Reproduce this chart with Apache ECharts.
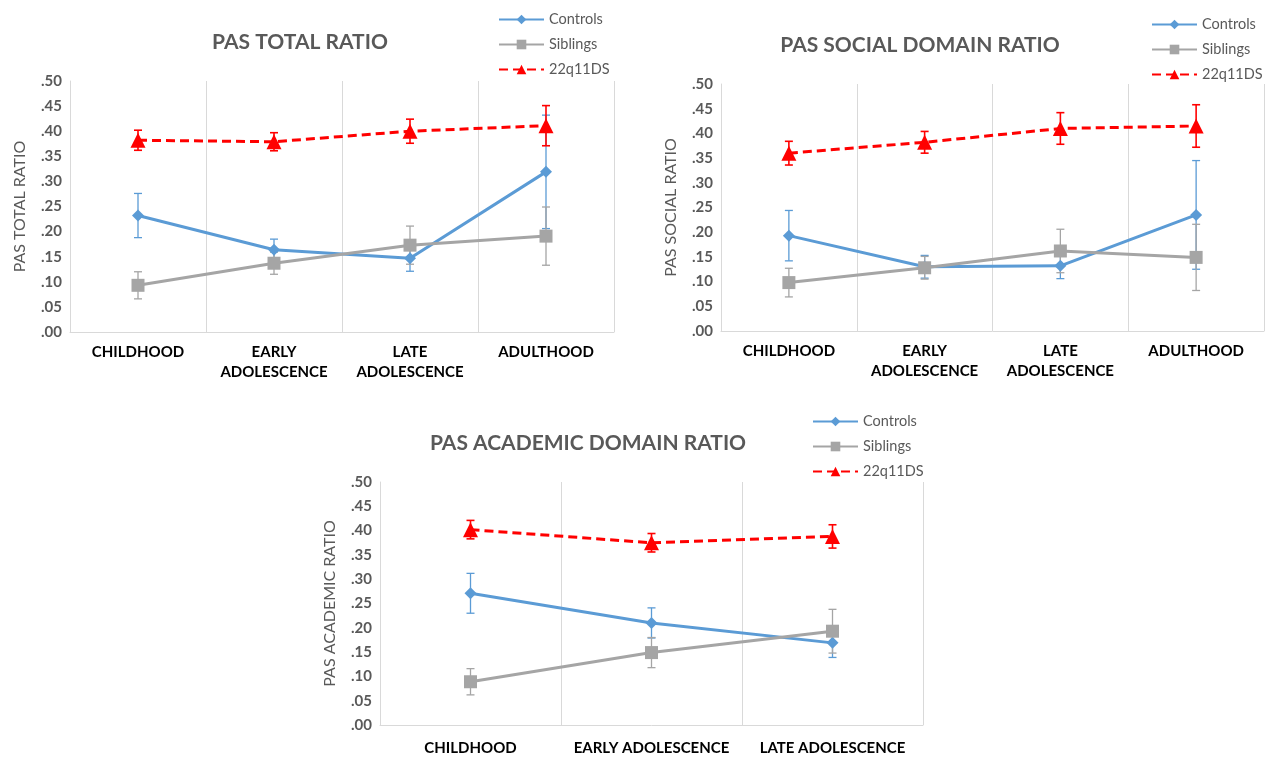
<!DOCTYPE html>
<html><head><meta charset="utf-8">
<script src="https://cdn.jsdelivr.net/npm/echarts@6/dist/echarts.min.js"></script>
<style>html,body{margin:0;padding:0;background:#fff}#c{width:1279px;height:758px}</style>
</head><body><div id="c"></div>
<script>
// ---- data ----
const categories4 = ['CHILDHOOD', 'EARLY\nADOLESCENCE', 'LATE\nADOLESCENCE', 'ADULTHOOD'];
const categories3 = ['CHILDHOOD', 'EARLY ADOLESCENCE', 'LATE ADOLESCENCE'];
const seriesNames = ['Controls', 'Siblings', '22q11DS'];
const titles = ['PAS TOTAL RATIO', 'PAS SOCIAL DOMAIN RATIO', 'PAS ACADEMIC DOMAIN RATIO'];
const yNames = ['PAS TOTAL RATIO', 'PAS SOCIAL RATIO', 'PAS ACADEMIC RATIO'];

// PAS total
const totalControls = [0.232, 0.164, 0.147, 0.319];
const totalControlsErr = [0.044, 0.021, 0.026, 0.113];
const totalSiblings = [0.093, 0.137, 0.173, 0.191];
const totalSiblingsErr = [0.027, 0.022, 0.038, 0.058];
const total22q = [0.382, 0.379, 0.400, 0.411];
const total22qErr = [0.020, 0.018, 0.024, 0.040];

// PAS social
const socialControls = [0.193, 0.130, 0.132, 0.235];
const socialControlsErr = [0.051, 0.023, 0.026, 0.110];
const socialSiblings = [0.098, 0.128, 0.162, 0.149];
const socialSiblingsErr = [0.029, 0.023, 0.044, 0.067];
const social22q = [0.360, 0.382, 0.410, 0.415];
const social22qErr = [0.024, 0.022, 0.032, 0.043];

// PAS academic
const academicControls = [0.271, 0.210, 0.169];
const academicControlsErr = [0.041, 0.031, 0.030];
const academicSiblings = [0.089, 0.149, 0.193];
const academicSiblingsErr = [0.027, 0.031, 0.045];
const academic22q = [0.402, 0.375, 0.388];
const academic22qErr = [0.019, 0.019, 0.024];

// ---- styling ----
const FONT = 'Lato, "Open Sans", sans-serif';
const BLUE = '#5b9bd5', GRAY = '#a5a5a5', RED = '#ff0000', TXT = '#595959', AX = '#d9d9d9';
const colors = [BLUE, GRAY, RED];
const symbols = ['diamond', 'rect', 'triangle'];
const symbolSizes = [12, 13, 15];

const panels = [
  { cats: categories4, vals: [totalControls, totalSiblings, total22q], errs: [totalControlsErr, totalSiblingsErr, total22qErr],
    grid: { left: 70, top: 81, width: 544, height: 251 }, titleX: 295, titleY: 27, legend: { left: 493, top: 7 }, labelMargin: 10 },
  { cats: categories4, vals: [socialControls, socialSiblings, social22q], errs: [socialControlsErr, socialSiblingsErr, social22qErr],
    grid: { left: 721, top: 84, width: 543, height: 247 }, titleX: 915, titleY: 30, legend: { left: 1146, top: 12 }, labelMargin: 10 },
  { cats: categories3, vals: [academicControls, academicSiblings, academic22q], errs: [academicControlsErr, academicSiblingsErr, academic22qErr],
    grid: { left: 380, top: 482, width: 543, height: 247 }, titleX: 583, titleY: 428, legend: { left: 807, top: 409 }, labelMargin: 13 }
];

function errRender(color, lw) {
  return function (params, api) {
    const x = api.value(0), lo = api.value(1), hi = api.value(2);
    const p1 = api.coord([x, hi]), p2 = api.coord([x, lo]);
    const w = 4;
    const style = { stroke: color, lineWidth: lw };
    return { type: 'group', children: [
      { type: 'line', shape: { x1: p1[0], y1: p1[1], x2: p2[0], y2: p2[1] }, style },
      { type: 'line', shape: { x1: p1[0] - w, y1: p1[1], x2: p1[0] + w, y2: p1[1] }, style },
      { type: 'line', shape: { x1: p2[0] - w, y1: p2[1], x2: p2[0] + w, y2: p2[1] }, style }
    ] };
  };
}

const option = { animation: false, backgroundColor: '#fff', title: [], legend: [], grid: [], xAxis: [], yAxis: [], series: [] };

panels.forEach((p, i) => {
  option.title.push({ text: titles[i], left: p.titleX, top: p.titleY, textAlign: 'center',
    textStyle: { fontFamily: FONT, fontSize: 21, fontWeight: 'bold', color: TXT } });
  option.grid.push(Object.assign({ containLabel: false }, p.grid));
  option.legend.push({ orient: 'vertical', left: p.legend.left, top: p.legend.top, data: seriesNames,
    itemWidth: 45, itemHeight: 12, itemGap: 10, selectedMode: false,
    textStyle: { fontFamily: FONT, fontSize: 14.5, color: TXT } });
  option.xAxis.push({ type: 'category', gridIndex: i, data: p.cats, boundaryGap: true,
    axisLine: { show: true, lineStyle: { color: AX, width: 1 } }, axisTick: { show: false },
    splitLine: { show: true, lineStyle: { color: AX, width: 1 } },
    axisLabel: { interval: 0, margin: p.labelMargin, color: '#000', fontFamily: FONT, fontSize: 15, fontWeight: 'bold', lineHeight: 20 } });
  option.yAxis.push({ type: 'value', gridIndex: i, min: 0, max: 0.5, interval: 0.05,
    name: yNames[i], nameLocation: 'middle', nameRotate: 90, nameGap: 42,
    nameTextStyle: { fontFamily: FONT, fontSize: 16, color: TXT },
    axisLine: { show: true, lineStyle: { color: AX, width: 1 } }, axisTick: { show: false }, splitLine: { show: false },
    axisLabel: { margin: 8, color: TXT, fontFamily: FONT, fontSize: 15, fontWeight: 'bold',
      formatter: v => v.toFixed(2).replace(/^0/, '') } });
  for (let s = 0; s < 3; s++) {
    const errData = p.vals[s].map((v, k) => [k, v - p.errs[s][k], v + p.errs[s][k]]);
    option.series.push({ type: 'custom', name: seriesNames[s] + ' err', xAxisIndex: i, yAxisIndex: i,
      data: errData, encode: { x: 0, y: [1, 2] }, renderItem: errRender(colors[s], s === 2 ? 1.6 : 1.3), z: 1, silent: true });
  }
  for (let s = 0; s < 3; s++) {
    option.series.push({ type: 'line', name: seriesNames[s], xAxisIndex: i, yAxisIndex: i, data: p.vals[s],
      symbol: symbols[s], symbolSize: symbolSizes[s], showAllSymbol: true,
      itemStyle: { color: colors[s] },
      lineStyle: { color: colors[s], width: 3, type: s === 2 ? [9, 5] : 'solid' },
      z: 3 + s, silent: true });
  }
});

const chart = echarts.init(document.getElementById('c'), null, { renderer: 'canvas' });
chart.setOption(option);
</script>
</body></html>
